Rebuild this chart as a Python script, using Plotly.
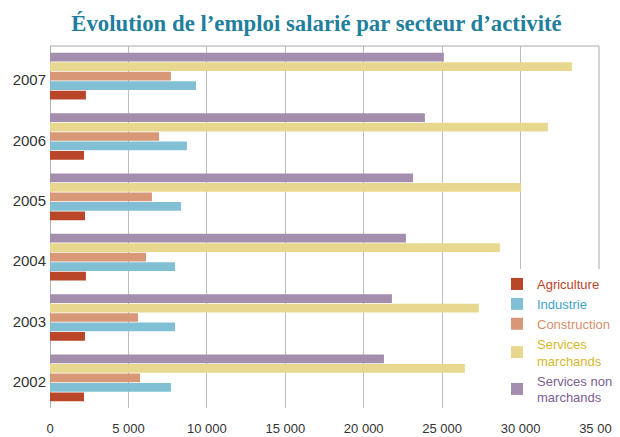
import plotly.graph_objects as go

years = ["2002", "2003", "2004", "2005", "2006", "2007"]
agriculture = [2170, 2230, 2290, 2230, 2170, 2290]
industrie = [7710, 7970, 7970, 8350, 8730, 9310]
construction = [5740, 5610, 6120, 6500, 6950, 7710]
services_marchands = [26450, 27340, 28680, 30040, 31740, 33270]
services_non_marchands = [21290, 21800, 22690, 23140, 23900, 25110]
x_ticks = [0, 5000, 10000, 15000, 20000, 25000, 30000, 35000]

series = [
    ("Agriculture", agriculture, "#b94628", "#bd4429"),
    ("Industrie", industrie, "#80bfd4", "#3ea2c6"),
    ("Construction", construction, "#d89878", "#d68f6e"),
    ("Services<br>marchands", services_marchands, "#e8d78e", "#d6b82c"),
    ("Services non<br>marchands", services_non_marchands, "#a38fad", "#7d5e93"),
]

fig = go.Figure()
for name, vals, col, tcol in series:
    fig.add_trace(go.Bar(
        y=years, x=vals, orientation="h",
        name=f"<span style='color:{tcol}'>{name}</span>",
        marker=dict(color=col, line=dict(width=0)),
    ))

font_sans = "Liberation Sans, Arial, sans-serif"

# page body has an 8px margin, so the figure is 8px smaller and offsets shifted
W, H = 612, 429
fig.update_layout(
    width=W, height=H,
    margin=dict(l=42, r=21, t=38, b=29, autoexpand=False),
    paper_bgcolor="white", plot_bgcolor="white",
    barmode="group", bargap=0.215, bargroupgap=0.08,
    separators=", ",
    title=dict(
        text="Évolution de l’emploi salarié par secteur d’activité",
        font=dict(family="Liberation Serif, DejaVu Serif, serif", size=22.8, color="#1f7f9c", weight="bold"),
        x=308.5 / W, xref="container", xanchor="center", y=1 - 15.5 / H, yref="container", yanchor="middle",
    ),
    font=dict(family=font_sans, color="#333333"),
    legend=dict(
        x=489 / W, xref="container", xanchor="left",
        y=1 - 261 / H, yref="container", yanchor="top",
        bgcolor="white", traceorder="normal",
        font=dict(family=font_sans, size=13),
        itemwidth=30, tracegroupgap=0, valign="middle",
    ),
    xaxis=dict(
        range=[0, 35000], tickvals=x_ticks, tickformat=",d", separatethousands=True,
        showgrid=True, gridcolor="#bdbdbd", gridwidth=1.3,
        zeroline=True, zerolinecolor="#b0b0b0", zerolinewidth=1.3,
        tickfont=dict(size=13, color="#333333"), ticks="", showline=False,
        automargin=False, ticklabelstandoff=11, ticklabeloverflow="allow",
    ),
    yaxis=dict(
        categoryorder="array", categoryarray=years,
        tickfont=dict(size=15, color="#333333"), ticks="", showgrid=False,
        ticklabelshift=4, ticklabelstandoff=3, automargin=False,
    ),
    shapes=[
        dict(type="line", xref="paper", yref="paper", x0=0, x1=1, y0=1, y1=1,
             line=dict(color="#c4c4c4", width=1.5), layer="below"),
        dict(type="line", xref="paper", yref="paper", x0=1, x1=1, y0=0, y1=1,
             line=dict(color="#bdbdbd", width=1.3), layer="below"),
    ],
)

fig.write_html("out.html")
